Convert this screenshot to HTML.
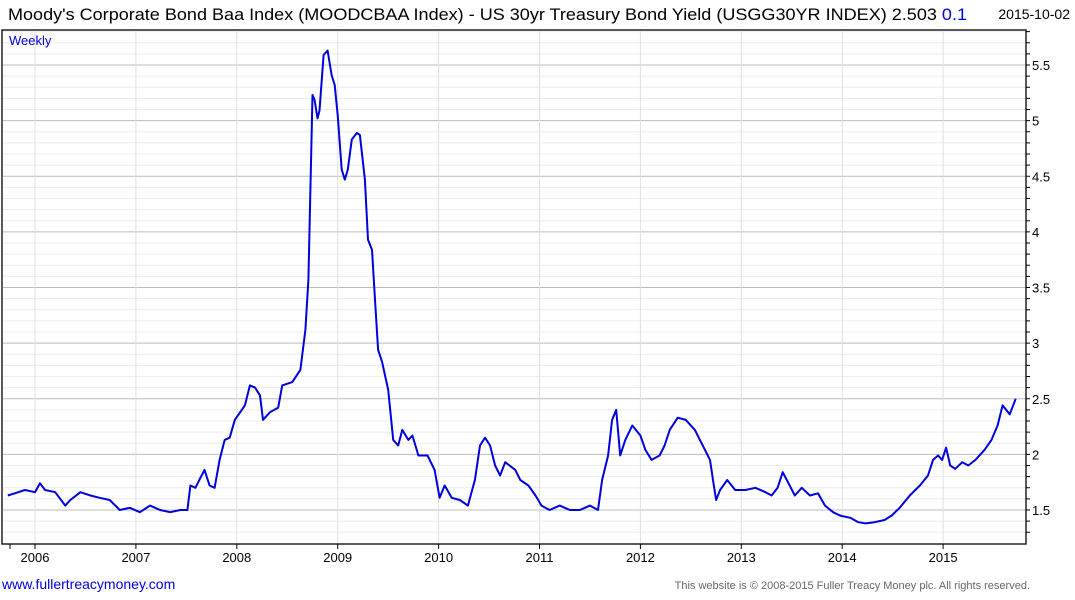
<!DOCTYPE html>
<html><head><meta charset="utf-8"><style>
body{margin:0;background:#fff;width:1075px;height:600px;overflow:hidden;font-family:"Liberation Sans",sans-serif}
svg{display:block}
</style></head><body>
<svg id="chart" width="1075" height="600">
<text x="8" y="20" font-size="17" fill="#000" textLength="959" lengthAdjust="spacingAndGlyphs">Moody's Corporate Bond Baa Index (MOODCBAA Index) - US 30yr Treasury Bond Yield (USGG30YR INDEX) 2.503 <tspan fill="#0000dd">0.1</tspan></text>
<text x="1070" y="19" font-size="14" fill="#000" text-anchor="end">2015-10-02</text>
<g id="grid"></g>
<rect x="2" y="30" width="1024" height="514" fill="none" stroke="#000" stroke-width="1.3"/>
<text x="9" y="45" font-size="13" fill="#0000dd">Weekly</text>
<g id="axes"></g>
<path id="line" fill="none" stroke="#0000dd" stroke-width="2" stroke-linejoin="round"/>
<text x="2" y="589" font-size="14" fill="#0000dd">www.fullertreacymoney.com</text>
<text x="1030" y="589" font-size="11" fill="#666" text-anchor="end">This website is © 2008-2015 Fuller Treacy Money plc. All rights reserved.</text>
</svg>
<script>
const dates=[2005.73,2005.80,2005.90,2006.00,2006.05,2006.10,2006.20,2006.30,2006.35,2006.45,2006.55,2006.64,2006.74,2006.84,2006.94,2007.04,2007.14,2007.24,2007.34,2007.44,2007.51,2007.54,2007.59,2007.64,2007.68,2007.73,2007.78,2007.83,2007.88,2007.93,2007.98,2008.08,2008.13,2008.18,2008.23,2008.26,2008.33,2008.41,2008.45,2008.55,2008.63,2008.68,2008.71,2008.75,2008.77,2008.80,2008.82,2008.86,2008.90,2008.94,2008.97,2009.00,2009.04,2009.07,2009.10,2009.14,2009.19,2009.22,2009.27,2009.30,2009.34,2009.37,2009.40,2009.44,2009.50,2009.55,2009.60,2009.64,2009.70,2009.74,2009.80,2009.89,2009.96,2010.01,2010.06,2010.13,2010.21,2010.29,2010.36,2010.41,2010.46,2010.51,2010.56,2010.61,2010.66,2010.76,2010.81,2010.89,2010.96,2011.02,2011.10,2011.20,2011.30,2011.40,2011.50,2011.58,2011.62,2011.68,2011.72,2011.76,2011.80,2011.85,2011.92,2012.00,2012.05,2012.11,2012.19,2012.24,2012.29,2012.37,2012.45,2012.54,2012.59,2012.64,2012.69,2012.72,2012.75,2012.79,2012.86,2012.94,2013.04,2013.14,2013.24,2013.30,2013.36,2013.41,2013.48,2013.53,2013.60,2013.68,2013.76,2013.83,2013.91,2013.98,2014.08,2014.16,2014.23,2014.32,2014.42,2014.49,2014.57,2014.67,2014.77,2014.85,2014.90,2014.95,2014.99,2015.03,2015.07,2015.12,2015.19,2015.25,2015.32,2015.41,2015.48,2015.54,2015.59,2015.66,2015.72];
const values=[1.63,1.65,1.68,1.66,1.74,1.68,1.66,1.54,1.59,1.66,1.63,1.61,1.59,1.50,1.52,1.48,1.54,1.50,1.48,1.50,1.50,1.72,1.70,1.79,1.86,1.72,1.70,1.95,2.13,2.15,2.31,2.44,2.62,2.60,2.53,2.31,2.38,2.42,2.62,2.65,2.76,3.12,3.57,5.23,5.19,5.02,5.09,5.59,5.63,5.41,5.32,5.05,4.56,4.47,4.56,4.83,4.89,4.87,4.47,3.93,3.84,3.39,2.94,2.83,2.58,2.13,2.08,2.22,2.13,2.17,1.99,1.99,1.86,1.61,1.72,1.61,1.59,1.54,1.77,2.08,2.15,2.08,1.90,1.81,1.93,1.86,1.77,1.72,1.63,1.54,1.50,1.54,1.50,1.50,1.54,1.50,1.77,1.99,2.31,2.40,1.99,2.13,2.26,2.17,2.04,1.95,1.99,2.08,2.22,2.33,2.31,2.22,2.13,2.04,1.95,1.77,1.59,1.68,1.77,1.68,1.68,1.70,1.66,1.63,1.70,1.84,1.72,1.63,1.70,1.63,1.65,1.54,1.48,1.45,1.43,1.39,1.38,1.39,1.41,1.45,1.52,1.63,1.72,1.81,1.95,1.99,1.95,2.06,1.90,1.87,1.93,1.90,1.95,2.04,2.13,2.26,2.44,2.36,2.50];
const yTicks=[1.5,2,2.5,3,3.5,4,4.5,5,5.5];
const yearTicks=[2006,2007,2008,2009,2010,2011,2012,2013,2014,2015];
const NS='http://www.w3.org/2000/svg';
const X=d=>35+(d-2006)*100.9;
const Y=v=>510-(v-1.5)*111.25;
function mk(tag,attrs,parent){const e=document.createElementNS(NS,tag);for(const k in attrs)e.setAttribute(k,attrs[k]);parent.appendChild(e);return e;}
const grid=document.getElementById('grid'),axes=document.getElementById('axes');
for(let i=12;i<=58;i++){const v=i/10;const y=Y(v);if(y<31||y>543)continue;
 const major=yTicks.some(t=>Math.abs(t-v)<1e-6);
 const l=mk('line',{x1:3,x2:1026,y1:y,y2:y,stroke:major?'#bbb':'#ececec','stroke-width':1},grid);
 
 
 const t=mk('line',{x1:1026,x2:1030,y1:y,y2:y,stroke:'#000','stroke-width':1},axes);
 
 
}
yTicks.forEach(v=>{const t=mk('text',{x:1032,y:Y(v)+5,'font-size':13,fill:'#000'},axes);t.textContent=String(v);
 
 });
yearTicks.forEach(yr=>{const x=X(yr);
 const g=mk('line',{x1:x,x2:x,y1:31,y2:543,stroke:'#e0e0e0','stroke-width':1},grid);
 
 
 const t=mk('line',{x1:x,x2:x,y1:544,y2:549,stroke:'#000','stroke-width':1},axes);
 
 
 const l=mk('text',{x:x,y:562,'font-size':13,fill:'#000','text-anchor':'middle'},axes);l.textContent=String(yr);
 
 });
const t0=mk('line',{x1:10,x2:10,y1:544,y2:549,stroke:'#000'},axes);


document.getElementById('line').setAttribute('d',dates.map((d,i)=>(i?'L':'M')+X(d).toFixed(1)+','+Y(values[i]).toFixed(1)).join(''));
</script>
</body></html>
